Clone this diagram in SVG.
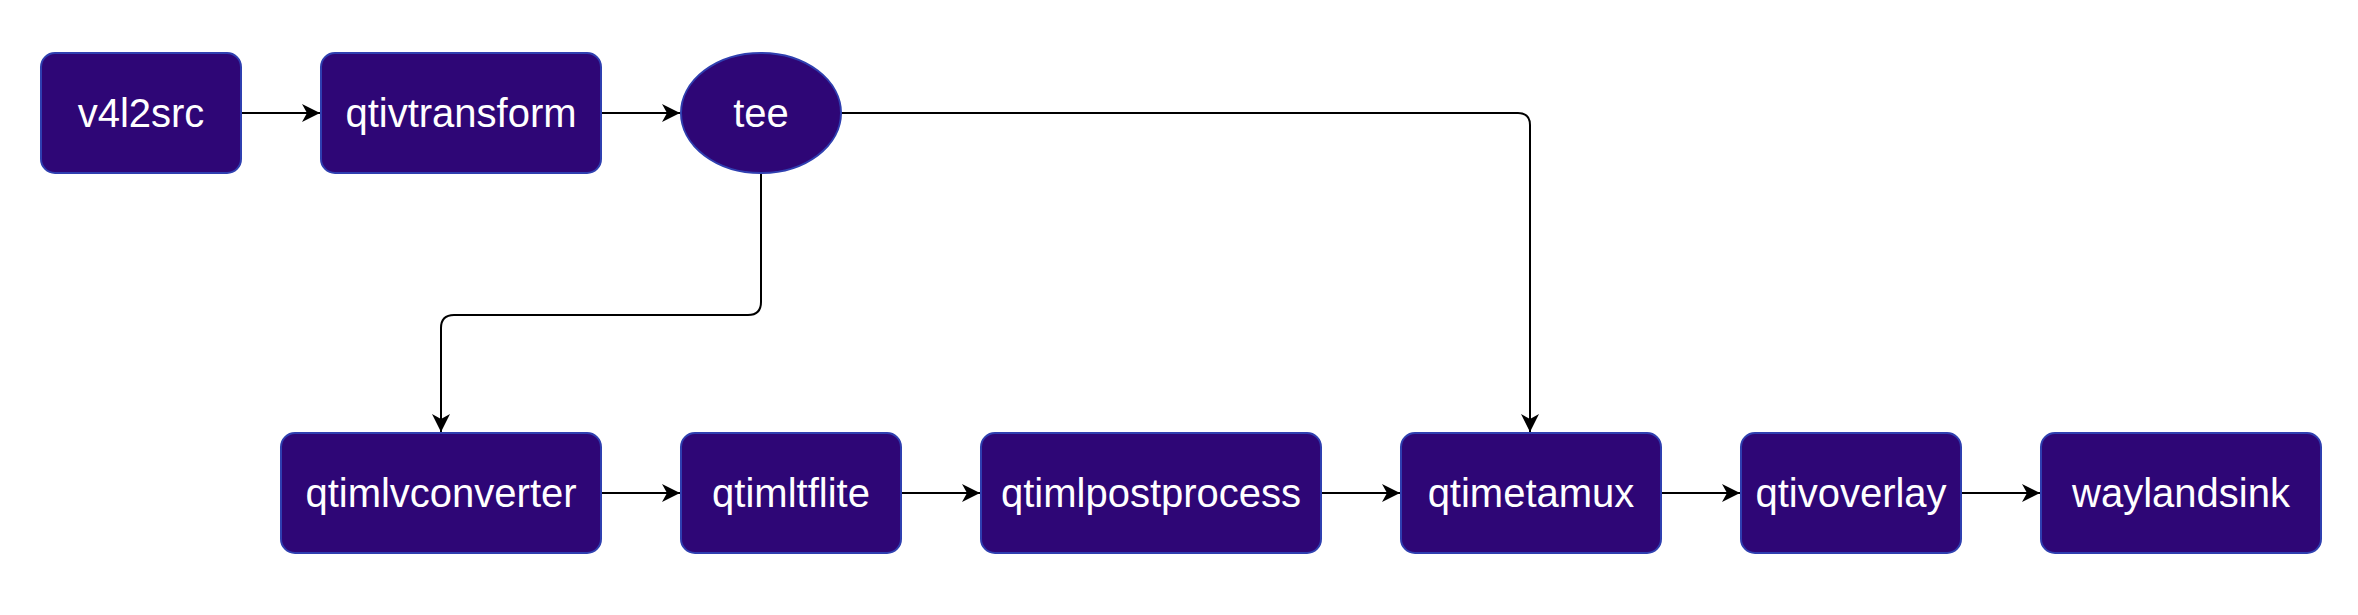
<svg xmlns="http://www.w3.org/2000/svg" width="2358" height="615" viewBox="0 0 2358 615">
  <defs>
    <style>
      .node { fill: #2e0676; stroke: #2f3fb0; stroke-width: 2; }
      .label { font-family: "Liberation Sans", Arial, sans-serif; font-size: 40px; fill: #ffffff; text-anchor: middle; dominant-baseline: central; }
      .edge { fill: none; stroke: #000000; stroke-width: 2; }
    </style>
    <marker id="arrow" viewBox="0 0 20 20" refX="19" refY="10" markerWidth="20" markerHeight="20" markerUnits="userSpaceOnUse" orient="auto">
      <path d="M1,1 L19,10 L1,19 L6,10 Z" fill="#000000"/>
    </marker>
  </defs>
  <rect width="2358" height="615" fill="#ffffff"/>

  <!-- connectors -->
  <g id="edges">
    <path class="edge" d="M241,113 L320,113" marker-end="url(#arrow)"/>
    <path class="edge" d="M601,113 L680,113" marker-end="url(#arrow)"/>
    <path class="edge" d="M761,173 L761,302 Q761,315 748,315 L454,315 Q441,315 441,328 L441,432" marker-end="url(#arrow)"/>
    <path class="edge" d="M841,113 L1518,113 Q1530,113 1530,125 L1530,432" marker-end="url(#arrow)"/>
    <path class="edge" d="M601,493 L680,493" marker-end="url(#arrow)"/>
    <path class="edge" d="M901,493 L980,493" marker-end="url(#arrow)"/>
    <path class="edge" d="M1321,493 L1400,493" marker-end="url(#arrow)"/>
    <path class="edge" d="M1661,493 L1740,493" marker-end="url(#arrow)"/>
    <path class="edge" d="M1961,493 L2040,493" marker-end="url(#arrow)"/>
  </g>

  <!-- top row -->
  <g id="v4l2src">
    <rect class="node" x="41" y="53" width="200" height="120" rx="14"/>
    <text class="label" x="141" y="113">v4l2src</text>
  </g>
  <g id="qtivtransform">
    <rect class="node" x="321" y="53" width="280" height="120" rx="14"/>
    <text class="label" x="461" y="113">qtivtransform</text>
  </g>
  <g id="tee">
    <ellipse class="node" cx="761" cy="113" rx="80" ry="60"/>
    <text class="label" x="761" y="113">tee</text>
  </g>

  <!-- bottom row -->
  <g id="qtimlvconverter">
    <rect class="node" x="281" y="433" width="320" height="120" rx="14"/>
    <text class="label" x="441" y="493">qtimlvconverter</text>
  </g>
  <g id="qtimltflite">
    <rect class="node" x="681" y="433" width="220" height="120" rx="14"/>
    <text class="label" x="791" y="493">qtimltflite</text>
  </g>
  <g id="qtimlpostprocess">
    <rect class="node" x="981" y="433" width="340" height="120" rx="14"/>
    <text class="label" x="1151" y="493">qtimlpostprocess</text>
  </g>
  <g id="qtimetamux">
    <rect class="node" x="1401" y="433" width="260" height="120" rx="14"/>
    <text class="label" x="1531" y="493">qtimetamux</text>
  </g>
  <g id="qtivoverlay">
    <rect class="node" x="1741" y="433" width="220" height="120" rx="14"/>
    <text class="label" x="1851" y="493">qtivoverlay</text>
  </g>
  <g id="waylandsink">
    <rect class="node" x="2041" y="433" width="280" height="120" rx="14"/>
    <text class="label" x="2181" y="493">waylandsink</text>
  </g>
</svg>
